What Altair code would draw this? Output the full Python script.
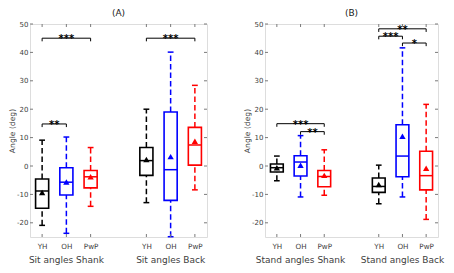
import altair as alt
import pandas as pd

groups = ["YH", "OH", "PwP"]
positions = [1, 2, 3, 5.3, 6.3, 7.3]
tick_labels = ["YH", "OH", "PwP", "YH", "OH", "PwP"]
colors = ["#000000", "#0000ff", "#ff0000"]
y_ticks = [-20, -10, 0, 10, 20, 30, 40, 50]
group_centers = [2, 6.3]

# Panel A (sit)
a_title = "(A)"
a_groups = ["Sit angles Shank", "Sit angles Back"]
a_wlo = [-20.9, -23.7, -14.2, -12.9, -24.9, -8.4]
a_q1 = [-14.9, -10.2, -7.7, -3.3, -12.1, 0.3]
a_med = [-8.8, -5.7, -3.8, 1.9, -1.3, 7.4]
a_q3 = [-4.6, -0.6, -1.6, 6.5, 19.0, 13.6]
a_whi = [9.1, 10.2, 6.5, 20.0, 40.1, 28.4]
a_mean = [-9.3, -5.6, -3.8, 2.3, 3.3, 8.7]
a_br_x1 = [1, 1, 5.3]
a_br_x2 = [3, 2, 7.3]
a_br_y = [45, 14.8, 45]
a_br_txt = ["***", "**", "***"]

# Panel B (stand)
b_title = "(B)"
b_groups = ["Stand angles Shank", "Stand angles Back"]
b_wlo = [-5.2, -10.9, -10.3, -13.3, -10.9, -18.8]
b_q1 = [-2.1, -3.5, -7.3, -9.3, -3.8, -8.4]
b_med = [-0.6, 1.4, -3.7, -7.2, 3.5, -3.4]
b_q3 = [0.7, 3.6, -1.6, -4.2, 14.5, 5.2]
b_whi = [3.5, 10.7, 5.7, 0.3, 41.6, 21.7]
b_mean = [-0.6, 0.3, -3.3, -6.5, 10.5, -0.8]
b_br_x1 = [1, 2, 5.3, 5.3, 6.3]
b_br_x2 = [3, 3, 7.3, 6.3, 7.3]
b_br_y = [14.9, 12.1, 48.3, 45.7, 43.3]
b_br_txt = ["***", "**", "**", "***", "*"]

H = 213
FONT = "DejaVu Sans"
GREY = "#404040"
AXC = "#7a7a7a"

label_expr = "[" + ",".join("'%s'" % t for t in tick_labels) + "][indexof([" + \
    ",".join(str(p) for p in positions) + "], datum.value)]"


def make_panel(title, gnames, wlo, q1, med, q3, whi, mean, bx1, bx2, by, btxt, W):
    df = pd.DataFrame({"pos": positions, "grp": groups * 2, "wlo": wlo, "q1": q1,
                       "med": med, "q3": q3, "whi": whi, "mean": mean})
    bdf = pd.DataFrame({"x1": bx1, "x2": bx2, "y": by, "txt": btxt})
    gdf = pd.DataFrame({"gx": group_centers, "name": gnames})
    ydf = pd.DataFrame({"t": y_ticks})
    xdf = pd.DataFrame({"p": positions})

    xs = alt.Scale(domain=[0.5, 7.8], nice=False, zero=False)
    ys = alt.Scale(domain=[-25, 50], nice=False, zero=False)
    col = alt.Color("grp:N", scale=alt.Scale(domain=groups, range=colors), legend=None)
    stk = alt.Stroke("grp:N", scale=alt.Scale(domain=groups, range=colors), legend=None)

    xaxis = alt.Axis(values=positions, labelExpr=label_expr, title=None, grid=False,
                     domain=False, ticks=False, labelFontSize=7.2, labelColor=GREY,
                     labelPadding=5, labelFont=FONT)
    yaxis = alt.Axis(values=y_ticks, title="Angle (deg)", grid=False, domain=False,
                     ticks=False, labelFontSize=7, labelColor=GREY, labelPadding=2,
                     labelExpr="toString(datum.value)",
                     labelFont=FONT, titleFont=FONT, titleFontSize=7.6,
                     titleFontWeight="normal", titleColor=GREY, titlePadding=0)

    base = alt.Chart(df).transform_calculate(
        xl="datum.pos - 0.27", xr="datum.pos + 0.27",
        cl="datum.pos - 0.12", cr="datum.pos + 0.12")

    def X(f):
        return alt.X(f, scale=xs, axis=xaxis)

    def Y(f):
        return alt.Y(f, scale=ys, axis=yaxis)

    dash = [5.5, 3]
    wh_up = base.mark_rule(strokeDash=dash, strokeWidth=1.5).encode(
        x=X("pos:Q"), y=Y("q3:Q"), y2="whi:Q", color=col)
    wh_dn = base.mark_rule(strokeDash=dash, strokeWidth=1.5).encode(
        x=X("pos:Q"), y=Y("wlo:Q"), y2="q1:Q", color=col)
    cap_hi = base.mark_rule(strokeWidth=1.5).encode(
        x=X("cl:Q"), x2="cr:Q", y=Y("whi:Q"), color=col)
    cap_lo = base.mark_rule(strokeWidth=1.5).encode(
        x=X("cl:Q"), x2="cr:Q", y=Y("wlo:Q"), color=col)
    box = base.mark_rect(fillOpacity=0, fill="white", strokeWidth=1.6).encode(
        x=X("xl:Q"), x2="xr:Q", y=Y("q1:Q"), y2="q3:Q", stroke=stk)
    medl = base.mark_rule(strokeWidth=1.5).encode(
        x=X("xl:Q"), x2="xr:Q", y=Y("med:Q"), color=col)
    meanp = base.mark_point(shape="triangle-up", filled=True, size=40, opacity=1).encode(
        x=X("pos:Q"), y=Y("mean:Q"), color=col)

    bbase = alt.Chart(bdf).transform_calculate(
        ylo="datum.y - 1.1", xm="(datum.x1 + datum.x2) / 2")
    br_h = bbase.mark_rule(color="black", strokeWidth=1).encode(
        x=X("x1:Q"), x2="x2:Q", y=Y("y:Q"))
    br_l = bbase.mark_rule(color="black", strokeWidth=1).encode(
        x=X("x1:Q"), y=Y("ylo:Q"), y2="y:Q")
    br_r = bbase.mark_rule(color="black", strokeWidth=1).encode(
        x=X("x2:Q"), y=Y("ylo:Q"), y2="y:Q")
    stars = bbase.mark_text(fontSize=10, fontWeight="bold", baseline="middle", dy=1,
                            font=FONT, color="black").encode(
        x=X("xm:Q"), y=Y("y:Q"), text="txt:N")

    glab = alt.Chart(gdf).mark_text(fontSize=9, baseline="middle", font=FONT,
                                    color=GREY).encode(
        x=X("gx:Q"), y=alt.value(H + 23), text="name:N")

    yt_l = alt.Chart(ydf).mark_rule(color=AXC, strokeWidth=1).encode(
        y=Y("t:Q"), x=alt.value(0), x2=alt.value(3))
    yt_r = alt.Chart(ydf).mark_rule(color=AXC, strokeWidth=1).encode(
        y=Y("t:Q"), x=alt.value(W - 3), x2=alt.value(W))
    xt_b = alt.Chart(xdf).mark_rule(color=AXC, strokeWidth=1).encode(
        x=X("p:Q"), y=alt.value(H - 3), y2=alt.value(H))
    xt_t = alt.Chart(xdf).mark_rule(color=AXC, strokeWidth=1).encode(
        x=X("p:Q"), y=alt.value(0), y2=alt.value(3))

    return alt.layer(wh_up, wh_dn, cap_hi, cap_lo, box, medl, meanp,
                     br_h, br_l, br_r, stars, glab, yt_l, yt_r, xt_b, xt_t).properties(
        width=W, height=H,
        title=alt.TitleParams(title, fontSize=9, font=FONT, fontWeight="normal",
                              color="#202020", offset=2))


pa = make_panel(a_title, a_groups, a_wlo, a_q1, a_med, a_q3, a_whi, a_mean,
                a_br_x1, a_br_x2, a_br_y, a_br_txt, 177)
pb = make_panel(b_title, b_groups, b_wlo, b_q1, b_med, b_q3, b_whi, b_mean,
                b_br_x1, b_br_x2, b_br_y, b_br_txt, 173)

chart = alt.hconcat(pa, pb, spacing=35).properties(padding=0).configure_view(
    stroke=AXC, strokeWidth=1).configure(font=FONT)

chart.save("out.html", embed_options={"renderer": "svg", "actions": False})
